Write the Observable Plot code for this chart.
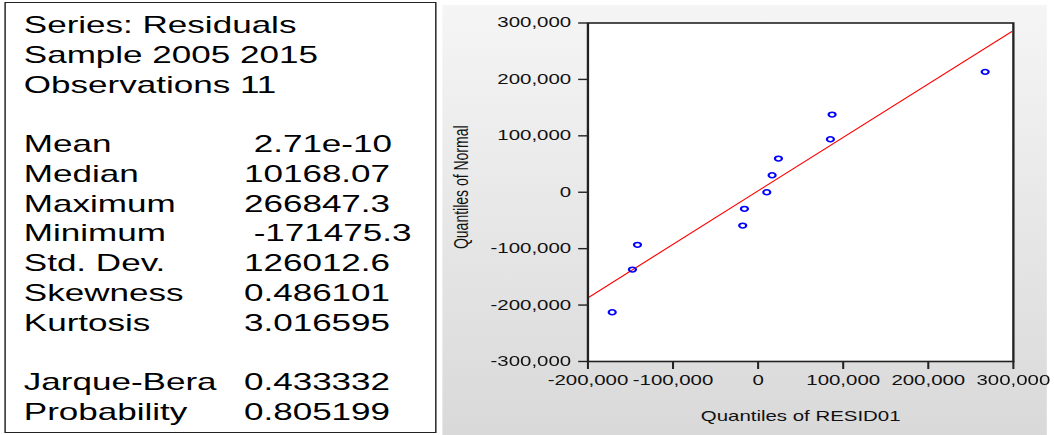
<!DOCTYPE html>
<html>
<head>
<meta charset="utf-8">
<script src="https://cdn.jsdelivr.net/npm/d3@7"></script>
<script src="https://cdn.jsdelivr.net/npm/@observablehq/plot@0.6"></script>
<style>
  html, body { margin: 0; padding: 0; background: #ffffff; overflow: hidden; }
  #stage {
    position: relative; width: 722px; height: 435px;
    transform: scaleX(1.46); transform-origin: 0 0;
    font-family: "Liberation Sans", Arial, sans-serif;
  }
  #stats {
    position: absolute; left: 2.7px; top: 1.5px; width: 296.6px; height: 431px;
    box-sizing: border-box; border: 1.7px solid #222; background: #fff;
  }
  #stats .row { position: absolute; left: 0; right: 0; height: 29.75px; line-height: 29.75px;
    font-size: 24px; color: #000; white-space: pre; }
  #stats .lab { position: absolute; left: 12.6px; }
  #stats .val { position: absolute; left: 163.4px; }
  #panel {
    position: absolute; left: 303.2px; top: 5px; width: 413.6px; height: 430px;
    background: linear-gradient(#f5f5f5, #d9d9d9);
  }
</style>
</head>
<body>
<div id="stage">
  <div id="stats"></div>
  <div id="panel"></div>
</div>
<script>
// ---- data ----
const statLabels = ["Series: Residuals", "Sample 2005 2015", "Observations 11", "",
  "Mean", "Median", "Maximum", "Minimum", "Std. Dev.", "Skewness", "Kurtosis", "",
  "Jarque-Bera", "Probability"];
const statValues = ["", "", "", "",
  " 2.71e-10", "10168.07", "266847.3", " -171475.3", "126012.6", "0.486101", "3.016595", "",
  "0.433332", "0.805199"];

const residQuantiles = [-171475, -147700, -141800, -18100, -16100, 10168, 16450, 23850, 84950, 86950, 266847];
const normalQuantiles = [-212700, -137000, -93200, -59000, -29400, 0, 30100, 59700, 93900, 137700, 213400];

const refLineX = [-200000, 298000];
const refLineY = [-187100, 284800];

const xTicks = [-200000, -100000, 0, 100000, 200000, 300000];
const yTicks = [-300000, -200000, -100000, 0, 100000, 200000, 300000];

const xTitle = "Quantiles of RESID01";
const yTitle = "Quantiles of Normal";

// ---- stats box ----
const stats = document.getElementById("stats");
statLabels.forEach((lab, i) => {
  const row = document.createElement("div");
  row.className = "row";
  row.style.top = (7.6 + i * 29.75) + "px";
  const a = document.createElement("span"); a.className = "lab"; a.textContent = lab;
  const b = document.createElement("span"); b.className = "val"; b.textContent = statValues[i];
  row.appendChild(a); row.appendChild(b);
  stats.appendChild(row);
});

// ---- Q-Q plot ----
const fmt = d3.formatLocale({decimal: ".", thousands: ",", grouping: [3], currency: ["", ""], minus: "-"}).format(",");
const points = residQuantiles.map((x, i) => ({x, y: normalQuantiles[i]}));
const refLine = refLineX.map((x, i) => ({x, y: refLineY[i]}));

const chart = Plot.plot({
  width: 413.6,
  height: 430,
  marginLeft: 99.2,
  marginRight: 23,
  marginTop: 17.5,
  marginBottom: 74,
  style: {background: "transparent", fontFamily: "'Liberation Sans', Arial, sans-serif", fontSize: "14px", color: "#111", overflow: "visible"},
  x: {domain: [-200000, 300000]},
  y: {domain: [-300000, 300000]},
  marks: [
    Plot.frame({fill: "#ffffff"}),
    Plot.line(refLine, {x: "x", y: "y", stroke: "#ff0000", strokeWidth: 1}),
    Plot.dot(points, {x: "x", y: "y", r: 2.4, stroke: "#0000ff", strokeWidth: 1.5, fill: "none"}),
    Plot.frame({stroke: "#222", strokeWidth: 1.6}),
    Plot.axisX({ticks: xTicks, tickFormat: fmt, tickSize: 8, tickPadding: 6, stroke: "#222", strokeWidth: 1.4, fill: "#111", fontSize: 14, label: null}),
    Plot.axisY({ticks: yTicks, tickFormat: fmt, tickSize: 6.2, tickPadding: 5.3, stroke: "#222", strokeWidth: 1.4, fill: "#111", fontSize: 14, label: null}),
    Plot.text([yTitle], {text: d => d, frameAnchor: "left", textAnchor: "middle", rotate: -90, lineAnchor: "top", dx: -92, dy: -5, fontSize: 14, fill: "#111"}),
    Plot.text([xTitle], {text: d => d, frameAnchor: "bottom", textAnchor: "middle", lineAnchor: "bottom", dy: 60, fontSize: 14, fill: "#111"})
  ]
});
document.getElementById("panel").appendChild(chart);
</script>
</body>
</html>
